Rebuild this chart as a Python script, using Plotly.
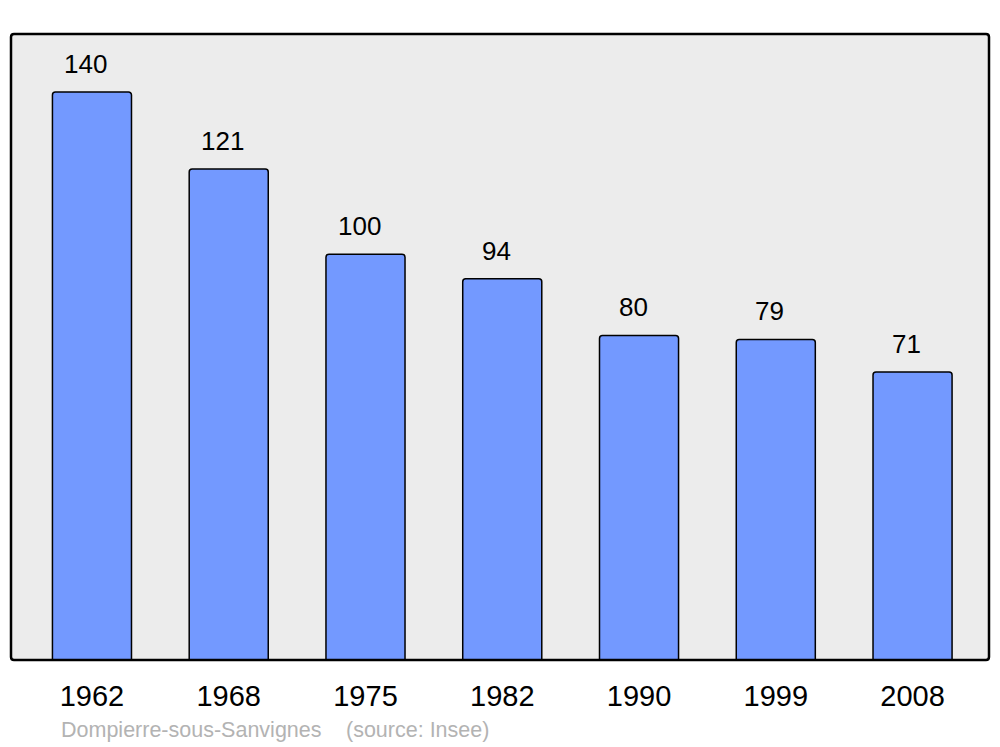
import plotly.graph_objects as go

years = ["1962", "1968", "1975", "1982", "1990", "1999", "2008"]
population = [140, 121, 100, 94, 80, 79, 71]
commune = "Dompierre-sous-Sanvignes"
source = "(source: Insee)"

idx = list(range(len(years)))
FONT = "Liberation Sans, Arial, sans-serif"

fig = go.Figure()
fig.add_trace(go.Bar(
    x=idx, y=population, width=0.578,
    marker=dict(color="#7399ff", line=dict(color="black", width=1.5), cornerradius=3),
    hoverinfo="skip",
))

for i, v in zip(idx, population):
    fig.add_annotation(x=i, y=v, text=str(v), showarrow=False, yanchor="bottom",
                       yshift=11, xshift=-6, font=dict(size=26, color="black", family=FONT))

fig.add_annotation(xref="paper", yref="paper", x=(59-11)/978, y=-(730-660)/626,
                   text=commune, showarrow=False, xanchor="left", yanchor="middle",
                   font=dict(size=21.5, color="#b3b3b3", family=FONT))
fig.add_annotation(xref="paper", yref="paper", x=(344-11)/978, y=-(730-660)/626,
                   text=source, showarrow=False, xanchor="left", yanchor="middle",
                   font=dict(size=21.5, color="#b3b3b3", family=FONT))

# rounded plot frame (paper coordinates)
rx, ry = 3 / 978, 3 / 626
path = (f"M {rx},0 L {1-rx},0 Q 1,0 1,{ry} L 1,{1-ry} Q 1,1 {1-rx},1 "
        f"L {rx},1 Q 0,1 0,{1-ry} L 0,{ry} Q 0,0 {rx},0 Z")
fig.add_shape(type="path", xref="paper", yref="paper", path=path,
              line=dict(color="black", width=2.5), layer="above")

fig.update_layout(
    width=1000, height=747,
    margin=dict(l=11, r=11, t=34, b=87),
    paper_bgcolor="white", plot_bgcolor="#ececec",
    showlegend=False,
    font=dict(family=FONT, color="black"),
    xaxis=dict(range=[-0.592, 6.559], tickvals=idx, ticktext=years,
               tickfont=dict(size=29), ticks="outside", ticklen=10,
               tickcolor="rgba(0,0,0,0)", showgrid=False, zeroline=False,
               fixedrange=True),
    yaxis=dict(range=[0, 154.3], showticklabels=False, showgrid=False,
               zeroline=False, fixedrange=True),
)

fig.write_html("out.html", config={"displayModeBar": False},
               post_script="document.body.style.margin='0';document.body.style.overflow='hidden';")
